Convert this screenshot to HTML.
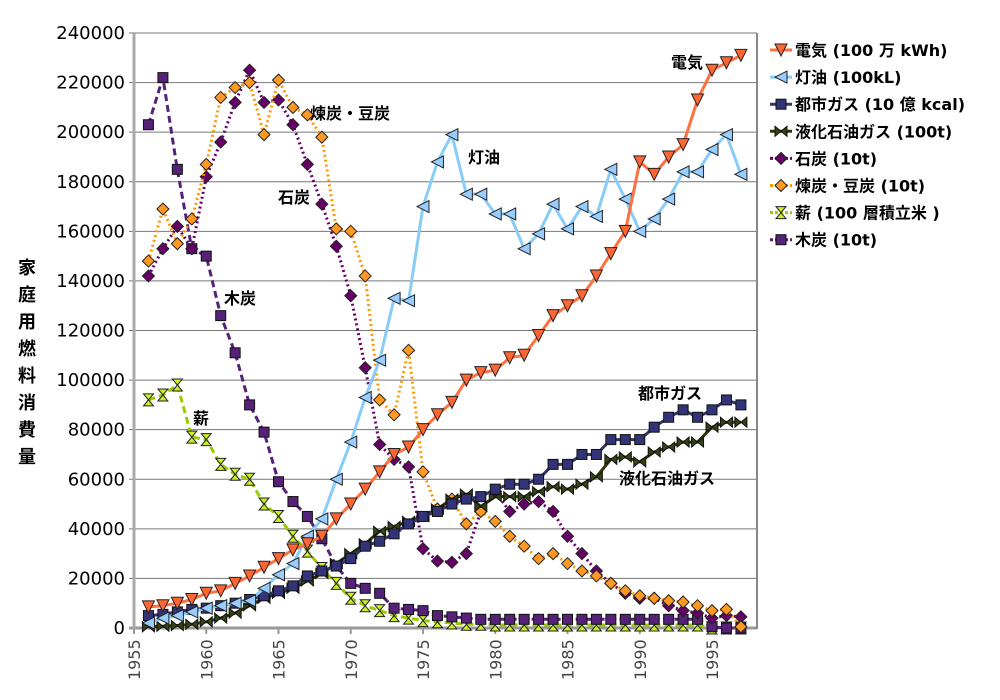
<!DOCTYPE html>
<html><head><meta charset="utf-8"><style>
body{margin:0;background:#fff;}
svg{display:block;font-family:"DejaVu Sans","Noto Sans CJK JP",sans-serif;}
</style></head><body>
<svg id="chart" width="1000" height="700" viewBox="0 0 1000 700" xmlns="http://www.w3.org/2000/svg"></svg>
<script>
const years=[];for(let y=1956;y<=1997;y++)years.push(y);
const yTicks=[0,20000,40000,60000,80000,100000,120000,140000,160000,180000,200000,220000,240000];
const xTicks=[1955,1960,1965,1970,1975,1980,1985,1990,1995];
const elec=[8500,9000,10000,11500,14000,15000,18000,21000,24500,28000,31500,34000,37000,44000,50000,56000,63000,70000,73000,80000,86000,91000,100000,103000,104000,109000,110000,118000,126000,130000,134000,142000,151000,160000,188000,183000,190000,195000,213000,225000,228000,231000];
const kero=[2000,4000,5000,6500,8000,9000,10000,11000,16000,21500,26000,37000,44000,60000,75000,93000,108000,133000,132000,170000,188000,199000,175000,175000,167000,167000,153000,159000,171000,161000,170000,166000,185000,173000,160000,165000,173000,184000,184000,193000,199000,183000];
const cgas=[5000,5500,6500,7500,8000,9000,10000,11500,13000,15000,17000,21000,23000,25000,28000,33000,35000,38000,42000,45000,47000,50000,52000,53000,56000,58000,58000,60000,66000,66000,70000,70000,76000,76000,76000,81000,85000,88000,85000,88000,92000,90000];
const lpg=[500,700,1000,1500,2500,4000,6000,9000,12000,14000,16000,19000,22000,26000,30000,34000,39000,41000,43000,45000,48000,52000,54000,49000,53000,53000,53000,55000,57000,56000,58000,61000,68000,69000,67000,71000,73000,75000,75000,81000,83000,83000];
const coal=[142000,153000,162000,153000,182000,196000,212000,225000,212000,213000,203000,187000,171000,154000,134000,105000,74000,68000,65000,32000,27000,26500,30000,47000,55000,47000,50000,51000,47000,37000,30000,23000,18000,14000,12000,12000,9000,7000,6000,4000,5000,4500];
const briq=[148000,169000,155000,165000,187000,214000,218000,220000,199000,221000,210000,207000,198000,161000,160000,142000,92000,86000,112000,63000,48000,52000,42000,47000,43000,37000,33000,28000,30000,26000,23000,21000,18000,15000,13000,12000,11000,10500,9000,7000,7500,500];
const fire=[92000,94000,98000,77000,76000,66000,62000,60000,50000,45000,37000,31000,24000,18000,12000,9000,7000,5000,4000,3000,2500,2000,1500,1500,1200,1200,1200,1200,1200,1200,1200,1200,1200,1200,1200,1200,1200,1200,1200,0,0,0];
const charc=[203000,222000,185000,153000,150000,126000,111000,90000,79000,59000,51000,45000,36000,25000,18000,16000,14000,8000,7500,7000,5000,4500,4000,3500,3500,3500,3500,3500,3500,3500,3500,3500,3500,3500,3500,3500,3500,3500,3500,500,0,0];

const X0=134,PX=14.45,Y0=628,YS=595/240000,RIGHT=757;
const xs=y=>X0+(y-1955)*PX, ys=v=>Y0-v*YS;
const svg=document.getElementById('chart');const NS='http://www.w3.org/2000/svg';
function mk(tag,attrs,parent){const e=document.createElementNS(NS,tag);for(const k in attrs)e.setAttribute(k,attrs[k]);(parent||svg).appendChild(e);return e;}
yTicks.forEach(v=>{
 const l=mk('line',{x1:X0-5,x2:RIGHT,y1:ys(v),y2:ys(v),stroke:v===0?'#999':'#777','stroke-width':v===0?3:1});
 
 
 const t=mk('text',{x:X0-9,y:ys(v)+6,'text-anchor':'end','font-size':18,fill:'#000'});t.textContent=v;
 
 
});
const lb=mk('line',{x1:X0,x2:X0,y1:ys(240000),y2:Y0+1,stroke:'#aaa','stroke-width':3});


const rb=mk('line',{x1:RIGHT,x2:RIGHT,y1:ys(240000),y2:Y0+1,stroke:'#888','stroke-width':2});


xTicks.forEach(yr=>{
 const x=xs(yr);
 mk('line',{x1:x,x2:x,y1:Y0,y2:Y0+6,stroke:'#999','stroke-width':2});
 const t=mk('text',{x:0,y:0,transform:`translate(${x+6},${Y0+52}) rotate(-90)`,'font-size':16,fill:'#444'});t.textContent=yr;
 
 
});
const yt=mk('text',{x:27,y:270,'font-size':18,'font-weight':'bold',fill:'#000','text-anchor':'middle'});


'家庭用燃料消費量'.split('').forEach((c,i)=>{const ts=mk('tspan',{x:27,y:274+i*27},yt);ts.textContent=c;});

function marker(type,x,y,fill,g){
 const s=6;
 if(type==='tdown')return mk('polygon',{points:`${x-s},${y-s} ${x+s},${y-s} ${x},${y+s}`,fill,stroke:'#222','stroke-width':1},g);
 if(type==='tleft')return mk('polygon',{points:`${x+s},${y-s} ${x+s},${y+s} ${x-s},${y}`,fill,stroke:'#222','stroke-width':1},g);
 if(type==='sq')return mk('rect',{x:x-5,y:y-5,width:10,height:10,fill,stroke:'#111','stroke-width':1},g);
 if(type==='bowtie')return mk('polygon',{points:`${x-6},${y-5} ${x},${y} ${x+6},${y-5} ${x+6},${y+5} ${x},${y} ${x-6},${y+5}`,fill,stroke:'#111','stroke-width':1},g);
 if(type==='dia')return mk('polygon',{points:`${x},${y-6} ${x+6},${y} ${x},${y+6} ${x-6},${y}`,fill,stroke:'#222','stroke-width':1},g);
 if(type==='hour')return mk('polygon',{points:`${x-5},${y-6} ${x+5},${y-6} ${x-5},${y+6} ${x+5},${y+6}`,fill,stroke:'#222','stroke-width':1},g);
}
const series=[
 {name:'electricity',data:elec,line:'#FF7040',fill:'#FF6633',m:'tdown',dash:'',label:'電気 (100 万 kWh)'},
 {name:'kerosene',data:kero,line:'#88CCF8',fill:'#99CCFF',m:'tleft',dash:'',label:'灯油 (100kL)'},
 {name:'city-gas',data:cgas,line:'#333366',fill:'#333377',m:'sq',dash:'',label:'都市ガス (10 億 kcal)'},
 {name:'lpg',data:lpg,line:'#333311',fill:'#334411',m:'bowtie',dash:'',label:'液化石油ガス (100t)'},
 {name:'coal',data:coal,line:'#660066',fill:'#660066',m:'dia',dash:'2,3',label:'石炭 (10t)'},
 {name:'briquette',data:briq,line:'#FF9900',fill:'#FF9922',m:'dia',dash:'2,3',label:'煉炭・豆炭 (10t)'},
 {name:'firewood',data:fire,line:'#99CC00',fill:'#CCEE22',m:'hour',dash:'7,4',label:'薪 (100 層積立米 )'},
 {name:'charcoal',data:charc,line:'#552277',fill:'#552277',m:'sq',dash:'7,4',label:'木炭 (10t)'}
];
const drawOrder=[6,7,4,5,3,2,1,0];
drawOrder.forEach(i=>{
 const s=series[i];
 const g=mk('g',{});
 
 
 const pts=s.data.map((v,j)=>xs(years[j]).toFixed(1)+','+ys(v).toFixed(1)).join(' ');
 mk('polyline',{points:pts,fill:'none',stroke:s.line,'stroke-width':3,'stroke-dasharray':s.dash,'stroke-linejoin':'round'},g);
 s.data.forEach((v,j)=>{const m=marker(s.m,xs(years[j]),ys(v),s.fill,g);
  
  });
});
[['電気',687,68],['灯油',484,163],['煉炭・豆炭',350,119],['石炭',294,203],['木炭',240,304],['薪',201,424],['都市ガス',670,399],['液化石油ガス',667,484]].forEach(a=>{
 const t=mk('text',{x:a[1],y:a[2],'text-anchor':'middle','font-size':16,'font-weight':'bold',fill:'#000'});t.textContent=a[0];
 
 
});
series.forEach((s,i)=>{
 const y=50+i*27.1;
 const g=mk('g',{});
 
 
 mk('line',{x1:770,x2:792,y1:y,y2:y,stroke:s.line,'stroke-width':3,'stroke-dasharray':s.dash?'3,2':''},g);
 marker(s.m,781,y,s.fill,g);
 const t=mk('text',{x:795,y:y+6,'font-size':16,'font-weight':'bold',fill:'#000'},g);t.textContent=s.label;
});
</script>
</body></html>
